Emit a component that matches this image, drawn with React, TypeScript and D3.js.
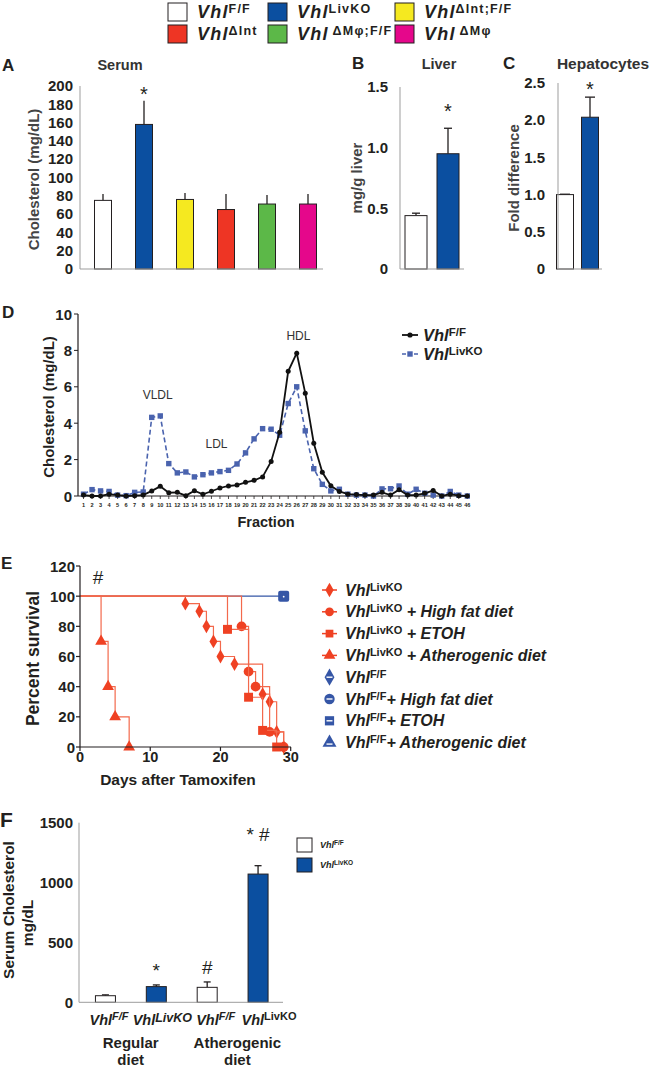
import React from 'react';
import * as d3 from 'd3';

const FONT = '"Liberation Sans", Arial, Helvetica, sans-serif';

// ---------- Legend / Panel A ----------
const genotypes = ['F/F', 'LivKO', 'ΔInt;F/F', 'ΔInt', 'ΔMφ;F/F', 'ΔMφ'];
const genotypeColors = ['#ffffff', '#0b4fa0', '#f5e920', '#ee3524', '#5cb848', '#e5078b'];
const serumMean = [75, 158, 76, 65, 71, 71];
const serumSem = [7, 26, 7, 17, 10, 11];
const serumTicks = [0, 20, 40, 60, 80, 100, 120, 140, 160, 180, 200];

// ---------- Panel B ----------
const liverGroups = ['F/F', 'LivKO'];
const liverMean = [0.44, 0.95];
const liverSem = [0.02, 0.21];
const liverTicks = [0, 0.5, 1.0, 1.5];
const liverTickLabels = ['0', '0.5', '1.0', '1.5'];

// ---------- Panel C ----------
const hepMean = [1.0, 2.04];
const hepSem = [0.005, 0.27];
const hepTicks = [0, 0.5, 1.0, 1.5, 2.0, 2.5];
const hepTickLabels = ['0', '0.5', '1.0', '1.5', '2.0', '2.5'];

// ---------- Panel D ----------
const fractions = [1, 2, 3, 4, 5, 6, 7, 8, 9, 10, 11, 12, 13, 14, 15, 16, 17, 18, 19, 20, 21, 22, 23,
  24, 25, 26, 27, 28, 29, 30, 31, 32, 33, 34, 35, 36, 37, 38, 39, 40, 41, 42, 43, 44, 45, 46];
const fplcFF = [0.05, 0, 0, 0.1, 0.05, 0, 0.02, 0.05, 0.28, 0.53, 0.18, 0.2, 0.02, 0.29, 0.09, 0.26,
  0.44, 0.55, 0.6, 0.75, 0.86, 1.05, 1.9, 3.5, 6.85, 7.85, 5.65, 2.9, 1.3, 0.56, 0.25, 0.1, 0.08, 0.05,
  0.05, 0.2, 0.05, 0.35, 0.05, 0.05, 0.15, 0.3, 0, 0.1, 0.02, 0];
const fplcKO = [0.1, 0.35, 0.28, 0.25, 0.05, 0.02, 0.2, 0.22, 4.32, 4.4, 1.78, 1.27, 1.32, 1.05, 1.17,
  1.27, 1.34, 1.41, 1.76, 2.37, 3.14, 3.7, 3.67, 3.34, 5.08, 6.0, 3.58, 1.5, 0.64, 0.28, 0.37, 0.1,
  0.05, 0.05, 0, 0.39, 0.4, 0.55, 0.1, 0.37, 0.15, 0.05, 0, 0.25, 0.05, 0];
const fplcTicks = [0, 2, 4, 6, 8, 10];
const fplcPeaks = ['VLDL', 'LDL', 'HDL'];
const fplcPeakFraction = [9.7, 16.6, 26.2];
const fplcPeakLevel = [5.35, 2.65, 8.55];

// ---------- Panel E ----------
const koDays = [15, 17, 18, 19, 20, 22, 26, 27, 28, 29];
const koPct = [95, 90, 80, 70, 60, 55, 35, 30, 10, 0];
const hfdDays = [23, 24, 25, 27, 29];
const hfdPct = [80, 50, 40, 10, 0];
const etohDays = [21, 24, 26, 28];
const etohPct = [78, 33, 11, 0];
const athDays = [3, 4, 5, 7];
const athPct = [70, 40, 20, 0];
const ffEndDay = 29;
const survTicksY = [0, 20, 40, 60, 80, 100, 120];
const survTicksX = [0, 10, 20, 30];
const survLegendSup = ['LivKO', 'LivKO', 'LivKO', 'LivKO', 'F/F', 'F/F', 'F/F', 'F/F'];
const survLegendSuffix = ['', ' + High fat diet', ' + ETOH', ' + Atherogenic diet', '',
  '+ High fat diet', '+ ETOH', '+ Atherogenic diet'];

// ---------- Panel F ----------
const dietGroups = ['reg-ff', 'reg-ko', 'ath-ff', 'ath-ko'];
const dietSup = ['F/F', 'LivKO', 'F/F', 'LivKO'];
const dietSupItalic = [true, true, true, false];
const dietMean = [55, 131, 125, 1071];
const dietSem = [7, 14, 45, 70];
const dietSig = ['', '*', '#', '* #'];
const dietNames = ['Regular', 'Atherogenic'];
const fTicks = [0, 500, 1000, 1500];

const RED = '#ef4123';
const REDLINE = '#f3694c';
const BLUE = '#0b4fa0';
const LBLUE = '#4a63ae';
const SBLUE = '#3556a6';

function Vhl(props: {
  x: number; y: number; sup: string; size: number; supSize: number; shift: number;
  supItalic?: boolean; suffix?: string; anchor?: string; gap?: number; ls?: number;
}) {
  const { x, y, sup, size, supSize, shift, supItalic = false, suffix = '', anchor = 'start', gap = 0, ls = 0 } = props;
  return (
    <text x={x} y={y} fontFamily={FONT} fontWeight="bold" fontSize={size} textAnchor={anchor as any}
      fill="#231f20" letterSpacing={ls}>
      <tspan fontStyle="italic">Vhl</tspan>
      <tspan fontSize={supSize} dy={-shift} dx={gap} fontStyle={supItalic ? 'italic' : 'normal'}>{sup}</tspan>
      {suffix ? <tspan dy={shift} fontStyle="italic">{suffix}</tspan> : null}
    </text>
  );
}

function stepPath(days: number[], pct: number[], x: any, y: any) {
  let d = `M${x(0)},${y(100)}`;
  let prev = 100;
  days.forEach((dd, i) => {
    d += `L${x(dd)},${y(prev)}L${x(dd)},${y(pct[i])}`;
    prev = pct[i];
  });
  return d;
}

export default function App() {
  const aX = d3.scalePoint<string>().domain(genotypes).range([82.5, 328.5]).padding(0.5);
  const aY = d3.scaleLinear().domain([0, 200]).range([269, 86]);
  const bX = d3.scalePoint<string>().domain(liverGroups).range([400, 464]).padding(0.5);
  const bY = d3.scaleLinear().domain([0, 1.5]).range([269, 87]);
  const cX = d3.scalePoint<string>().domain(liverGroups).range([552.5, 602.5]).padding(0.5);
  const cY = d3.scaleLinear().domain([0, 2.5]).range([269, 83]);
  const dX = d3.scaleLinear().domain([1, 46]).range([83.5, 467.3]);
  const dY = d3.scaleLinear().domain([0, 10]).range([496, 314]);
  const dLine = d3.line<number>().x((_, i) => dX(fractions[i])).y((v) => dY(v));
  const eX = d3.scaleLinear().domain([0, 30]).range([80, 290.7]);
  const eY = d3.scaleLinear().domain([0, 120]).range([747, 566]);
  const fX = d3.scalePoint<string>().domain(dietGroups).range([80, 283.5]).padding(0.5);
  const fLab = d3.scalePoint<string>().domain(dietGroups).range([109, 269]);
  const fY = d3.scaleLinear().domain([0, 1500]).range([1002.3, 822.7]);

  const gray = '#9d9d9d';
  const sym = (t: any, s: number) => d3.symbol().type(t).size(s)() as string;

  const survSeries = [
    { days: koDays, pct: koPct, type: d3.symbolDiamond, size: 55 },
    { days: hfdDays, pct: hfdPct, type: d3.symbolCircle, size: 75 },
    { days: etohDays, pct: etohPct, type: d3.symbolSquare, size: 80 },
    { days: athDays, pct: athPct, type: d3.symbolTriangle, size: 60 },
  ];
  const legendTypes = [d3.symbolDiamond, d3.symbolCircle, d3.symbolSquare, d3.symbolTriangle];
  const TICK = 15;

  return (
    <svg width={650} height={1067} viewBox="0 0 650 1067"
      style={{ position: 'absolute', left: 0, top: 0, background: '#fff' }}>
      <rect x={0} y={0} width={650} height={1067} fill="#fff" />

      {/* ---------- Top legend ---------- */}
      {genotypes.map((g, i) => {
        const col = i % 3;
        const row = Math.floor(i / 3);
        const bx = [168, 268, 395][col];
        const by = [3, 25][row];
        return (
          <g key={g}>
            <rect x={bx} y={by} width={19} height={18} fill={genotypeColors[i]} stroke="#231f20" strokeWidth={1} />
            <Vhl x={bx + 29} y={by + 14.5} sup={g} size={18} supSize={12.5} shift={5}
              gap={g.startsWith('ΔM') ? 4 : 0} ls={1.2} />
          </g>
        );
      })}

      {/* ---------- Panel A ---------- */}
      <text x={2} y={71} fontFamily={FONT} fontWeight="bold" fontSize={17} fill="#231f20">A</text>
      <text x={120} y={70} textAnchor="middle" fontFamily={FONT} fontWeight="bold" fontSize={14.5} fill="#333">Serum</text>
      <text transform={`translate(39,${(aY(0) + aY(200)) / 2 + 2}) rotate(-90)`} textAnchor="middle"
        fontFamily={FONT} fontWeight="bold" fontSize={15} fill="#444">Cholesterol (mg/dL)</text>
      {serumTicks.map((t) => (
        <text key={t} x={73} y={aY(t) + 5.2} textAnchor="end" fontFamily={FONT} fontWeight="bold" fontSize={TICK} fill="#231f20">{t}</text>
      ))}
      {genotypes.map((g, i) => {
        const cx = aX(g) as number;
        return (
          <g key={g}>
            <line x1={cx} x2={cx} y1={aY(serumMean[i])} y2={aY(serumMean[i] + serumSem[i])} stroke="#231f20" strokeWidth={1.3} />
            <rect x={cx - 8.5} y={aY(serumMean[i])} width={17} height={aY(0) - aY(serumMean[i])}
              fill={genotypeColors[i]} stroke="#231f20" strokeWidth={1} />
          </g>
        );
      })}
      <line x1={80} x2={80} y1={86} y2={aY(0)} stroke={gray} strokeWidth={1} />
      <line x1={80} x2={323} y1={aY(0)} y2={aY(0)} stroke={gray} strokeWidth={1} />
      <text x={aX('LivKO') as number} y={101} textAnchor="middle" fontFamily={FONT} fontSize={20} fill="#231f20">*</text>

      {/* ---------- Panel B ---------- */}
      <text x={352} y={69} fontFamily={FONT} fontWeight="bold" fontSize={17} fill="#231f20">B</text>
      <text x={439} y={69} textAnchor="middle" fontFamily={FONT} fontWeight="bold" fontSize={14.5} fill="#333">Liver</text>
      <text transform={`translate(362,${(bY(0) + bY(1.5)) / 2}) rotate(-90)`} textAnchor="middle"
        fontFamily={FONT} fontWeight="bold" fontSize={15} fill="#444">mg/g liver</text>
      {liverTicks.map((t, i) => (
        <text key={t} x={388} y={bY(t) + 5.2} textAnchor="end" fontFamily={FONT} fontWeight="bold" fontSize={TICK} fill="#231f20">{liverTickLabels[i]}</text>
      ))}
      {liverGroups.map((g, i) => {
        const cx = bX(g) as number;
        const top = bY(liverMean[i] + liverSem[i]);
        return (
          <g key={g}>
            <line x1={cx} x2={cx} y1={bY(liverMean[i])} y2={top} stroke="#231f20" strokeWidth={1.3} />
            <line x1={cx - 4} x2={cx + 4} y1={top} y2={top} stroke="#231f20" strokeWidth={1.3} />
            <rect x={cx - 11} y={bY(liverMean[i])} width={22} height={bY(0) - bY(liverMean[i])}
              fill={i === 0 ? '#fff' : BLUE} stroke="#231f20" strokeWidth={1} />
          </g>
        );
      })}
      <line x1={400} x2={400} y1={87} y2={bY(0)} stroke={gray} strokeWidth={1} />
      <line x1={400} x2={464} y1={bY(0)} y2={bY(0)} stroke={gray} strokeWidth={1} />
      <text x={bX('LivKO') as number} y={118} textAnchor="middle" fontFamily={FONT} fontSize={20} fill="#231f20">*</text>

      {/* ---------- Panel C ---------- */}
      <text x={503} y={69} fontFamily={FONT} fontWeight="bold" fontSize={17} fill="#231f20">C</text>
      <text x={603} y={69} textAnchor="middle" fontFamily={FONT} fontWeight="bold" fontSize={15.5} fill="#333">Hepatocytes</text>
      <text transform={`translate(519,${(cY(0) + cY(2.5)) / 2 + 2}) rotate(-90)`} textAnchor="middle"
        fontFamily={FONT} fontWeight="bold" fontSize={15} fill="#444">Fold difference</text>
      {hepTicks.map((t, i) => (
        <text key={t} x={545} y={cY(t) + 5.2} textAnchor="end" fontFamily={FONT} fontWeight="bold" fontSize={TICK} fill="#231f20">{hepTickLabels[i]}</text>
      ))}
      {liverGroups.map((g, i) => {
        const cx = cX(g) as number;
        const top = cY(hepMean[i] + hepSem[i]);
        return (
          <g key={g}>
            <line x1={cx} x2={cx} y1={cY(hepMean[i])} y2={top} stroke="#231f20" strokeWidth={1.3} />
            <line x1={cx - 5} x2={cx + 5} y1={top} y2={top} stroke="#231f20" strokeWidth={1.3} />
            <rect x={cx - 8.5} y={cY(hepMean[i])} width={17} height={cY(0) - cY(hepMean[i])}
              fill={i === 0 ? '#fff' : BLUE} stroke="#231f20" strokeWidth={1} />
          </g>
        );
      })}
      <line x1={558} x2={558} y1={83} y2={cY(0)} stroke={gray} strokeWidth={1} />
      <line x1={558} x2={602} y1={cY(0)} y2={cY(0)} stroke={gray} strokeWidth={1} />
      <text x={cX('LivKO') as number} y={96} textAnchor="middle" fontFamily={FONT} fontSize={20} fill="#231f20">*</text>

      {/* ---------- Panel D ---------- */}
      <text x={2} y={318} fontFamily={FONT} fontWeight="bold" fontSize={17} fill="#231f20">D</text>
      <text transform={`translate(54,${(dY(0) + dY(10)) / 2 + 2}) rotate(-90)`} textAnchor="middle"
        fontFamily={FONT} fontWeight="bold" fontSize={15} fill="#231f20">Cholesterol (mg/dL)</text>
      {fplcTicks.map((t) => (
        <g key={t}>
          <line x1={74} x2={78} y1={dY(t)} y2={dY(t)} stroke="#231f20" strokeWidth={1} />
          <text x={72} y={dY(t) + 5.5} textAnchor="end" fontFamily={FONT} fontWeight="bold" fontSize={15} fill="#231f20">{t}</text>
        </g>
      ))}
      {fractions.map((f) => (
        <g key={f}>
          <line x1={dX(f)} x2={dX(f)} y1={dY(0)} y2={dY(0) + 3} stroke="#231f20" strokeWidth={0.8} />
          <text x={dX(f)} y={507} textAnchor="middle" fontFamily={FONT} fontWeight="bold" fontSize={5.6} fill="#231f20">{f}</text>
        </g>
      ))}
      <line x1={78} x2={78} y1={314} y2={dY(0)} stroke="#231f20" strokeWidth={1.2} />
      <line x1={78} x2={470} y1={dY(0)} y2={dY(0)} stroke="#231f20" strokeWidth={1.2} />
      <path d={dLine(fplcKO) as string} fill="none" stroke={LBLUE} strokeWidth={1.6} strokeDasharray="5,3" />
      {fplcKO.map((v, i) => (
        <rect key={i} x={dX(fractions[i]) - 2.7} y={dY(v) - 2.7} width={5.4} height={5.4} fill={LBLUE} />
      ))}
      <path d={dLine(fplcFF) as string} fill="none" stroke="#111" strokeWidth={1.8} />
      {fplcFF.map((v, i) => (
        <circle key={i} cx={dX(fractions[i])} cy={dY(v)} r={2.5} fill="#111" />
      ))}
      {fplcPeaks.map((p, i) => (
        <text key={p} x={dX(fplcPeakFraction[i])} y={dY(fplcPeakLevel[i])} textAnchor="middle"
          fontFamily={FONT} fontSize={12} fill="#333">{p}</text>
      ))}
      <text x={266} y={527} textAnchor="middle" fontFamily={FONT} fontWeight="bold" fontSize={14.5} fill="#231f20">Fraction</text>
      <line x1={402} x2={418} y1={335} y2={335} stroke="#111" strokeWidth={1.8} />
      <circle cx={410} cy={335} r={2.6} fill="#111" />
      <Vhl x={423} y={341} sup="F/F" size={16.5} supSize={11.5} shift={5} />
      <line x1={402} x2={418} y1={354} y2={354} stroke={LBLUE} strokeWidth={1.6} strokeDasharray="4,2" />
      <rect x={407.3} y={351.3} width={5.4} height={5.4} fill={LBLUE} />
      <Vhl x={423} y={360} sup="LivKO" size={16.5} supSize={11.5} shift={5} />

      {/* ---------- Panel E ---------- */}
      <text x={1} y={569} fontFamily={FONT} fontWeight="bold" fontSize={17} fill="#231f20">E</text>
      <text transform={`translate(39,${(eY(0) + eY(120)) / 2 + 2}) rotate(-90)`} textAnchor="middle"
        fontFamily={FONT} fontWeight="bold" fontSize={17.5} fill="#231f20">Percent survival</text>
      {survTicksY.map((t) => (
        <g key={t}>
          <line x1={76} x2={80} y1={eY(t)} y2={eY(t)} stroke="#231f20" strokeWidth={1.2} />
          <text x={75} y={eY(t) + 5.5} textAnchor="end" fontFamily={FONT} fontWeight="bold" fontSize={15} fill="#231f20">{t}</text>
        </g>
      ))}
      {survTicksX.map((t) => (
        <g key={t}>
          <line x1={eX(t)} x2={eX(t)} y1={eY(0)} y2={eY(0) + 4} stroke="#231f20" strokeWidth={1.2} />
          <text x={eX(t)} y={762} textAnchor="middle" fontFamily={FONT} fontWeight="bold" fontSize={14.5} fill="#231f20">{t}</text>
        </g>
      ))}
      <text x={178} y={785} textAnchor="middle" fontFamily={FONT} fontWeight="bold" fontSize={15.5} fill="#231f20">Days after Tamoxifen</text>
      <text x={98} y={584} textAnchor="middle" fontFamily={FONT} fontSize={19} fill="#231f20">#</text>
      <line x1={eX(0)} x2={eX(ffEndDay)} y1={eY(100)} y2={eY(100)} stroke={SBLUE} strokeWidth={1.1} />
      {survSeries.map((s, k) => (
        <g key={k}>
          <path d={stepPath(s.days, s.pct, eX, eY)} fill="none" stroke={REDLINE} strokeWidth={1.2} />
          {s.days.map((dd, i) => (
            <path key={i} d={sym(s.type, s.size)} transform={`translate(${eX(dd)},${eY(s.pct[i])})`} fill={RED} />
          ))}
        </g>
      ))}
      <line x1={80} x2={80} y1={566} y2={eY(0)} stroke="#231f20" strokeWidth={1.2} />
      <line x1={80} x2={291} y1={eY(0)} y2={eY(0)} stroke="#231f20" strokeWidth={1.2} />
      <rect x={eX(ffEndDay) - 5.5} y={eY(100) - 5.5} width={11} height={11} rx={2} fill={SBLUE} />
      <circle cx={eX(ffEndDay)} cy={eY(100) + 0.5} r={0.9} fill="#fff" />
      {survLegendSup.map((sup, i) => {
        const y = 590 + i * 21.8;
        const isRed = i < 4;
        const t = legendTypes[i % 4];
        return (
          <g key={i}>
            {isRed ? <line x1={322} x2={337} y1={y} y2={y} stroke={RED} strokeWidth={1.5} /> : null}
            <path d={sym(t, isRed ? 60 : 85)} transform={`translate(329.5,${y})`} fill={isRed ? RED : SBLUE} />
            {!isRed ? <line x1={326.5} x2={332.5} y1={y + (i % 4 === 3 ? 1.5 : 0)} y2={y + (i % 4 === 3 ? 1.5 : 0)} stroke="#fff" strokeWidth={1.4} /> : null}
            <Vhl x={345} y={y + 5.5} sup={sup} size={16} supSize={11} shift={5} suffix={survLegendSuffix[i]} />
          </g>
        );
      })}

      {/* ---------- Panel F ---------- */}
      <text x={0} y={827} fontFamily={FONT} fontWeight="bold" fontSize={21} fill="#231f20">F</text>
      <text transform={`translate(14,910) rotate(-90)`} textAnchor="middle"
        fontFamily={FONT} fontWeight="bold" fontSize={15.5} fill="#231f20">Serum Cholesterol</text>
      <text transform={`translate(33,923) rotate(-90)`} textAnchor="middle"
        fontFamily={FONT} fontWeight="bold" fontSize={15.5} fill="#231f20">mg/dL</text>
      {fTicks.map((t) => (
        <text key={t} x={73} y={fY(t) + 5.2} textAnchor="end" fontFamily={FONT} fontWeight="bold" fontSize={TICK} fill="#231f20">{t}</text>
      ))}
      {dietGroups.map((g, i) => {
        const cx = fX(g) as number;
        const top = fY(dietMean[i] + dietSem[i]);
        return (
          <g key={g}>
            <line x1={cx} x2={cx} y1={fY(dietMean[i])} y2={top} stroke="#231f20" strokeWidth={1.3} />
            <line x1={cx - 3.5} x2={cx + 3.5} y1={top} y2={top} stroke="#231f20" strokeWidth={1.3} />
            <rect x={cx - 10} y={fY(dietMean[i])} width={20} height={fY(0) - fY(dietMean[i])}
              fill={i % 2 === 0 ? '#fff' : BLUE} stroke="#231f20" strokeWidth={1} />
            {dietSig[i] ? (
              <text x={cx} y={top - (i === 3 ? 25 : 8)} textAnchor="middle" fontFamily={FONT} fontSize={19} fill="#231f20">{dietSig[i]}</text>
            ) : null}
            <Vhl x={fLab(g) as number} y={1025} sup={dietSup[i]} size={14.5} supSize={i === 1 ? 12.5 : 11}
              shift={i === 1 ? 3 : 5} supItalic={dietSupItalic[i]} anchor="middle" />
          </g>
        );
      })}
      {dietNames.map((n, k) => {
        const cx = ((fLab(dietGroups[2 * k]) as number) + (fLab(dietGroups[2 * k + 1]) as number)) / 2 - 5;
        return (
          <g key={n}>
            <text x={cx} y={1048} textAnchor="middle" fontFamily={FONT} fontWeight="bold" fontSize={15} fill="#231f20">{n}</text>
            <text x={cx} y={1065} textAnchor="middle" fontFamily={FONT} fontWeight="bold" fontSize={15} fill="#231f20">diet</text>
          </g>
        );
      })}
      <line x1={79} x2={79} y1={822.7} y2={fY(0)} stroke={gray} strokeWidth={1} />
      <line x1={79} x2={283} y1={fY(0)} y2={fY(0)} stroke={gray} strokeWidth={1} />
      <rect x={297} y={838} width={15} height={14} fill="#fff" stroke="#231f20" strokeWidth={1} />
      <rect x={297} y={858} width={15} height={14} fill={BLUE} stroke="#231f20" strokeWidth={1} />
      <Vhl x={320} y={848} sup="F/F" size={9} supSize={6.5} shift={3} />
      <Vhl x={320} y={868} sup="LivKO" size={9} supSize={6.5} shift={3} />
    </svg>
  );
}
